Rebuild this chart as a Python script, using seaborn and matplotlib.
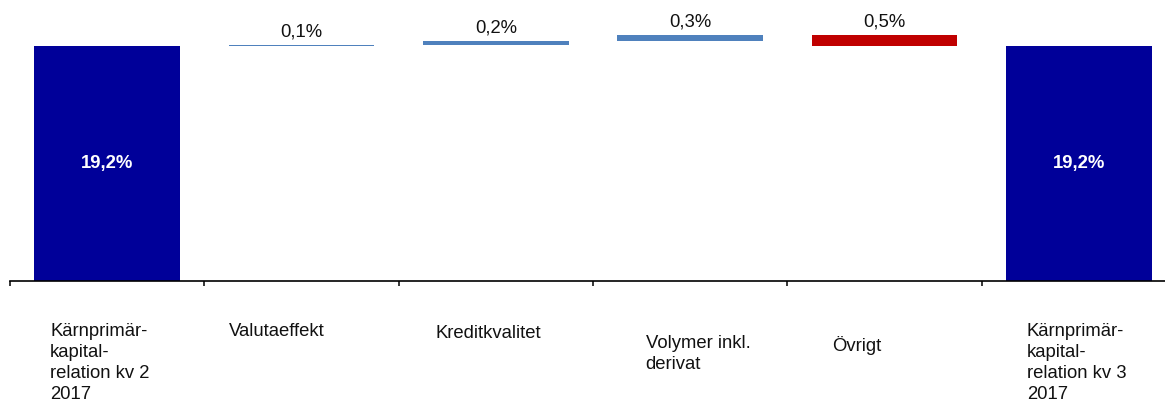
import numpy as np
import pandas as pd
import matplotlib
matplotlib.use("Agg")
import matplotlib.pyplot as plt
import seaborn as sns

# ---- data ----
categories = [
    "Kärnprimär-\nkapital-\nrelation kv 2\n2017",
    "Valutaeffekt",
    "Kreditkvalitet",
    "Volymer inkl.\nderivat",
    "Övrigt",
    "Kärnprimär-\nkapital-\nrelation kv 3\n2017",
]
start_value = 19.2
changes = [0.04, 0.18, 0.28, -0.50]
end_value = 19.2
value_labels = ["19,2%", "0,1%", "0,2%", "0,3%", "0,5%", "19,2%"]

# ---- styling / layout ----
TOTAL_COLOR = "#000099"
UP_COLOR = "#4F81BD"
DOWN_COLOR = "#C00000"
label_dx = [-0.294, -0.376, -0.309, -0.229, -0.268, -0.268]
label_top_px = [323, 323, 325, 335, 336, 323]
FS = 13.3

sns.set_theme(style="white")
plt.rcParams["font.family"] = ["Liberation Sans", "DejaVu Sans"]

levels = np.concatenate([[start_value], start_value + np.cumsum(changes)])
bottoms = [0.0] + list(np.minimum(levels[:-1], levels[1:])) + [0.0]
heights = [start_value] + list(np.abs(changes)) + [end_value]
colors = [TOTAL_COLOR] + [UP_COLOR if c >= 0 else DOWN_COLOR for c in changes] + [TOTAL_COLOR]

df = pd.DataFrame({"cat": categories, "h": heights, "b": bottoms})

fig = plt.figure(figsize=(11.65, 4.01), dpi=100)
fig.patch.set_facecolor("white")
ax = fig.add_axes([10 / 1165, 120 / 401, 1166 / 1165, 281 / 401])

sns.barplot(data=df, x="cat", y="h", bottom=df["b"].values, color=TOTAL_COLOR,
            width=0.75, errorbar=None, saturation=1, ax=ax, linewidth=0)
for patch, c in zip(ax.patches, colors):
    patch.set_facecolor(c)
    patch.set_edgecolor("none")

ymin = 8.5
ax.set_ylim(ymin, ymin + 281 / 22.0)
ax.set_xlim(-0.5, len(categories) - 0.5)

for s in ["left", "top", "right"]:
    ax.spines[s].set_visible(False)
ax.spines["bottom"].set_color("black")
ax.spines["bottom"].set_linewidth(1.2)
ax.set_yticks([])
ax.set_xticks([])
ax.set_xticks(np.arange(-0.5, len(categories)), minor=True)
ax.tick_params(axis="x", which="minor", bottom=True, length=3.5, width=1.1,
               color="black", direction="out", labelbottom=False)
ax.set_xlabel("")
ax.set_ylabel("")
ax.grid(False)

# total labels inside bars
for i in (0, len(categories) - 1):
    top = start_value if i == 0 else end_value
    ax.text(i, (ymin + top) / 2, value_labels[i], ha="center", va="center",
            color="white", fontsize=FS, fontweight="bold")

# change labels above bars
for k in range(len(changes)):
    i = k + 1
    ytop = max(levels[k], levels[k + 1])
    ax.annotate(value_labels[i], xy=(i, ytop), xytext=(0, 5.8),
                textcoords="offset points", ha="center", va="baseline",
                fontsize=FS, color="#111111")

# category labels
for i, cat in enumerate(categories):
    ax.annotate(cat, xy=(i + label_dx[i], 0), xycoords=("data", "axes fraction"),
                xytext=(0, -(label_top_px[i] - 281) * 0.72), textcoords="offset points",
                ha="left", va="top", multialignment="left", fontsize=FS,
                linespacing=1.3, color="#111111", annotation_clip=False)

fig.savefig("out.png", dpi=100, facecolor="white")
